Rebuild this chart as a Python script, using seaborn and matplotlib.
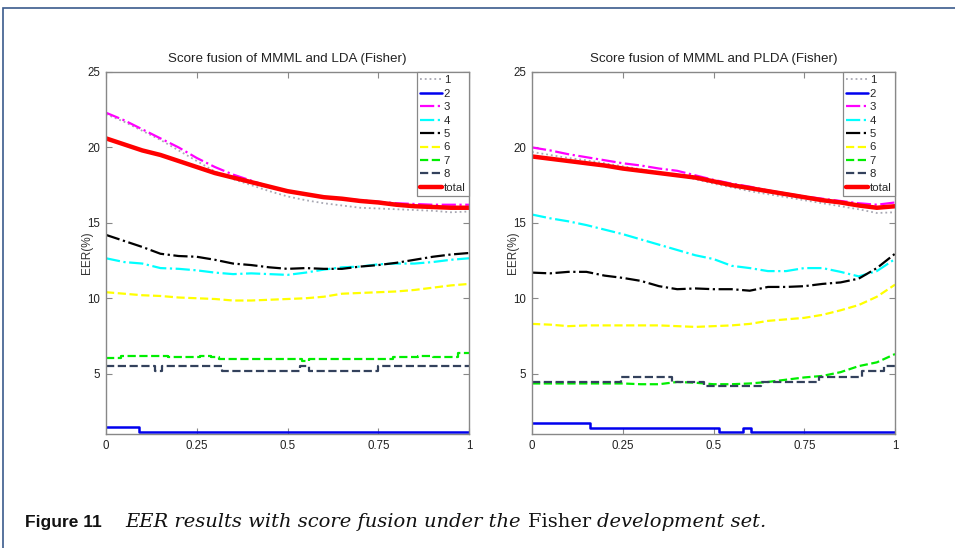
import numpy as np
import pandas as pd
import matplotlib
matplotlib.use('Agg')
import matplotlib.pyplot as plt
from matplotlib.patches import Rectangle
import seaborn as sns

# grid of weights used for the smooth curves
x = [0.0, 0.05, 0.1, 0.15, 0.2, 0.25, 0.3, 0.35, 0.4, 0.45, 0.5,
     0.55, 0.6, 0.65, 0.7, 0.75, 0.8, 0.85, 0.9, 0.95, 1.0]

# ---- left panel: MMML + LDA ----
l_1 = [22.2, 21.7, 21.1, 20.5, 19.8, 19.1, 18.4, 17.9, 17.5, 17.1, 16.75,
       16.5, 16.3, 16.15, 16.0, 15.95, 15.9, 15.85, 15.8, 15.7, 15.75]
l_3 = [22.3, 21.8, 21.2, 20.6, 20.0, 19.3, 18.7, 18.2, 17.8, 17.4, 17.1,
       16.9, 16.7, 16.6, 16.5, 16.4, 16.3, 16.25, 16.2, 16.2, 16.2]
l_4 = [12.65, 12.4, 12.3, 12.0, 11.95, 11.85, 11.7, 11.6, 11.65, 11.6, 11.55,
       11.7, 11.9, 12.05, 12.1, 12.25, 12.3, 12.3, 12.4, 12.55, 12.65]
l_5 = [14.2, 13.8, 13.4, 12.95, 12.8, 12.75, 12.55, 12.3, 12.2, 12.05, 11.95,
       12.0, 11.95, 11.95, 12.1, 12.2, 12.35, 12.55, 12.75, 12.9, 13.0]
l_6 = [10.4, 10.3, 10.2, 10.15, 10.05, 10.0, 9.95, 9.85, 9.85, 9.9, 9.95,
       10.0, 10.1, 10.3, 10.35, 10.4, 10.45, 10.55, 10.7, 10.85, 10.95]
l_total = [20.6, 20.2, 19.8, 19.5, 19.1, 18.7, 18.3, 18.0, 17.7, 17.4, 17.1,
           16.9, 16.7, 16.6, 16.45, 16.35, 16.2, 16.1, 16.05, 16.0, 16.0]
# stepped curves
l_2_x = [0.0, 0.09, 1.0]
l_2 = [1.44, 1.13, 1.13]
l_7_x = [0.0, 0.04, 0.17, 0.26, 0.29, 0.31, 0.54, 0.56, 0.79, 0.86, 0.9, 0.97, 1.0]
l_7 = [6.05, 6.2, 6.1, 6.15, 6.1, 6.0, 5.85, 6.0, 6.1, 6.2, 6.1, 6.35, 6.35]
l_8_x = [0.0, 0.135, 0.155, 0.32, 0.535, 0.56, 0.75, 1.0]
l_8 = [5.5, 5.2, 5.5, 5.2, 5.5, 5.2, 5.5, 5.5]

# ---- right panel: MMML + PLDA ----
r_1 = [19.7, 19.5, 19.3, 19.15, 18.95, 18.75, 18.55, 18.35, 18.15, 17.9, 17.6,
       17.35, 17.1, 16.9, 16.7, 16.5, 16.3, 16.1, 15.9, 15.65, 15.7]
r_3 = [20.0, 19.8, 19.55, 19.35, 19.15, 18.95, 18.8, 18.6, 18.45, 18.15, 17.85,
       17.6, 17.4, 17.15, 16.95, 16.75, 16.6, 16.45, 16.3, 16.2, 16.35]
r_4 = [15.55, 15.3, 15.1, 14.85, 14.55, 14.25, 13.9, 13.55, 13.2, 12.85, 12.6,
       12.15, 12.0, 11.8, 11.8, 12.0, 12.0, 11.75, 11.45, 11.8, 12.6]
r_5 = [11.7, 11.65, 11.75, 11.75, 11.5, 11.35, 11.15, 10.8, 10.6, 10.65, 10.6,
       10.6, 10.5, 10.75, 10.75, 10.8, 10.95, 11.05, 11.3, 12.0, 12.95]
r_6 = [8.3, 8.25, 8.15, 8.2, 8.2, 8.2, 8.2, 8.2, 8.15, 8.1, 8.15,
       8.2, 8.3, 8.5, 8.6, 8.7, 8.9, 9.2, 9.55, 10.1, 10.9]
r_7 = [4.35, 4.35, 4.35, 4.35, 4.35, 4.35, 4.3, 4.3, 4.45, 4.4, 4.3,
       4.3, 4.35, 4.45, 4.6, 4.75, 4.85, 5.1, 5.5, 5.75, 6.3]
r_total = [19.4, 19.25, 19.1, 18.95, 18.8, 18.6, 18.45, 18.3, 18.15, 18.0, 17.75,
           17.5, 17.3, 17.1, 16.9, 16.7, 16.5, 16.35, 16.15, 16.0, 16.1]
r_2_x = [0.0, 0.16, 0.515, 0.58, 0.603, 1.0]
r_2 = [1.75, 1.42, 1.15, 1.42, 1.15, 1.15]
r_8_x = [0.0, 0.245, 0.385, 0.475, 0.63, 0.79, 0.91, 0.97, 1.0]
r_8 = [4.45, 4.75, 4.45, 4.2, 4.45, 4.75, 5.2, 5.5, 5.5]

titles = ['Score fusion of MMML and LDA (Fisher)', 'Score fusion of MMML and PLDA (Fisher)']
xtick_vals = [0, 0.25, 0.5, 0.75, 1]
xtick_labels = ['0', '0.25', '0.5', '0.75', '1']
ytick_vals = [5, 10, 15, 20, 25]

sns.set_theme(style='white')
plt.rcParams['font.family'] = ['Liberation Sans', 'DejaVu Sans']

# label, color, linestyle, linewidth
styles = [
    ('1', '#a9a9b4', ':', 1.3),
    ('2', '#0000ee', '-', 1.8),
    ('3', '#ff00ff', '-.', 1.6),
    ('4', '#00ffff', '-.', 1.6),
    ('5', '#000000', '-.', 1.6),
    ('6', '#ffff00', '--', 1.6),
    ('7', '#00ee00', '--', 1.6),
    ('8', '#33415c', '--', 1.6),
    ('total', '#ff0000', '-', 3.2),
]

panels = [
    {'1': (x, l_1), '2': (l_2_x, l_2), '3': (x, l_3), '4': (x, l_4), '5': (x, l_5),
     '6': (x, l_6), '7': (l_7_x, l_7), '8': (l_8_x, l_8), 'total': (x, l_total)},
    {'1': (x, r_1), '2': (r_2_x, r_2), '3': (x, r_3), '4': (x, r_4), '5': (x, r_5),
     '6': (x, r_6), '7': (x, r_7), '8': (r_8_x, r_8), 'total': (x, r_total)},
]
stepped = [{'2', '7', '8'}, {'2', '8'}]

fig = plt.figure(figsize=(9.55, 5.48), dpi=100)
fig.patch.set_facecolor('white')
ax_l = fig.add_axes([106 / 955, 1 - 434 / 548, 363 / 955, 362 / 548])
ax_r = fig.add_axes([532 / 955, 1 - 434 / 548, 363 / 955, 362 / 548])

for i, ax in enumerate([ax_l, ax_r]):
    series = panels[i]
    for name, col, ls, lw in styles:
        xs, ys = series[name]
        kw = {}
        if name in stepped[i]:
            kw['drawstyle'] = 'steps-post'
        sns.lineplot(x=xs, y=ys, ax=ax, color=col, linestyle=ls, linewidth=lw,
                     label=name, sort=False, **kw)
    ax.set_xlim(0, 1)
    ax.set_ylim(1, 25)
    ax.set_xticks(xtick_vals)
    ax.set_xticklabels(xtick_labels)
    ax.set_yticks(ytick_vals)
    ax.set_title(titles[i], fontsize=9.6, color='#222222', pad=7)
    ax.set_ylabel('EER(%)', fontsize=8.5, color='#333333')
    ax.yaxis.set_label_coords(-0.037, 0.5)
    ax.tick_params(direction='in', length=4, width=0.8, colors='#888888',
                   labelcolor='#222222', labelsize=8.3, top=True, right=True,
                   bottom=True, left=True, pad=4)
    for sp in ax.spines.values():
        sp.set_color('#888888')
        sp.set_linewidth(1.0)
        sp.set_visible(True)
    leg = ax.legend(loc='upper right', fontsize=8.2, frameon=True, fancybox=False,
                    borderaxespad=0, borderpad=0.3, labelspacing=0.3,
                    handlelength=1.9, handletextpad=0.15, framealpha=1)
    leg.get_frame().set_edgecolor('#888888')
    leg.get_frame().set_linewidth(0.9)

# page frame
fig.add_artist(Rectangle((3 / 955, -0.1), 1.1, 1 - 8 / 548 + 0.1,
                         transform=fig.transFigure, fill=False,
                         edgecolor='#3b5b8c', linewidth=1.2, clip_on=False))

# caption pieces (text, font props, gap in px before it)
base_y = 1 - 527 / 548
pieces = [
    ('Figure 11', dict(family='Liberation Sans', weight='bold', size=12.5), 0),
    ('EER results with score fusion under the ', dict(family='DejaVu Serif', style='italic', size=14), 24),
    ('Fisher ', dict(family='DejaVu Serif', size=14), 0),
    ('development set.', dict(family='DejaVu Serif', style='italic', size=14), 0),
]
cx = 25 / 955
fig.canvas.draw()
renderer = fig.canvas.get_renderer()
for s, props, gap in pieces:
    cx += gap / fig.bbox.width
    t = fig.text(cx, base_y, s, va='baseline', ha='left', color='#111111', **props)
    bb = t.get_window_extent(renderer=renderer)
    cx = bb.x1 / fig.bbox.width

fig.savefig('out.png', dpi=100, facecolor='white')
